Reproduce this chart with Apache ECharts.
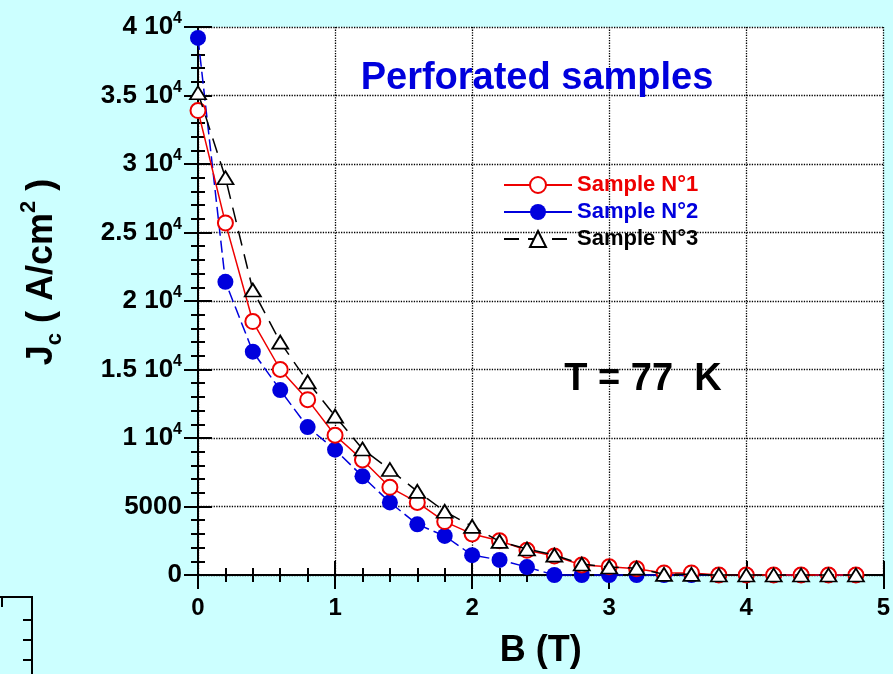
<!DOCTYPE html>
<html>
<head>
<meta charset="utf-8">
<script src="https://cdn.jsdelivr.net/npm/echarts@6/dist/echarts.min.js"></script>
<style>
html,body{margin:0;padding:0;background:#ccffff;}
#chart{width:893px;height:674px;}
</style>
</head>
<body>
<div id="chart"></div>
<script>
// ---- data ----
var fieldB = [0, 0.2, 0.4, 0.6, 0.8, 1.0, 1.2, 1.4, 1.6, 1.8, 2.0, 2.2, 2.4, 2.6, 2.8, 3.0, 3.2, 3.4, 3.6, 3.8, 4.0, 4.2, 4.4, 4.6, 4.8];
var sample1 = [33900, 25700, 18500, 15000, 12800, 10200, 8400, 6400, 5300, 3900, 3000, 2500, 1800, 1380, 730, 600, 450, 150, 150, 0, 0, 0, 0, 0, 0];
var sample2 = [39200, 21400, 16300, 13500, 10800, 9150, 7200, 5300, 3700, 2850, 1450, 1100, 580, 0, 0, 0, 0, 0, 0, 0, 0, 0, 0, 0, 0];
var sample3 = [35200, 29000, 20800, 17000, 14100, 11600, 9200, 7700, 6100, 4650, 3550, 2450, 1900, 1450, 800, 580, 500, 50, 50, 0, 0, 0, 0, 0, 0];
var seriesNames = ['Sample N°1', 'Sample N°2', 'Sample N°3'];
var yTickValues = [0, 5000, 10000, 15000, 20000, 25000, 30000, 35000, 40000];
var yTickBase = ['0', '5000', '1 10', '1.5 10', '2 10', '2.5 10', '3 10', '3.5 10', '4 10'];
var yTickExp = ['', '', '4', '4', '4', '4', '4', '4', '4'];
var xTickLabels = ['0', '1', '2', '3', '4', '5'];

function pairs(ys) { return fieldB.map(function (x, i) { return [x, ys[i]]; }); }

var FONT = '"Liberation Sans", Arial, sans-serif';
var RED = '#ee0000', BLUE = '#0000dd', BLACK = '#000000';

var chart = echarts.init(document.getElementById('chart'));

var axisCommon = {
  axisLine: { show: true, lineStyle: { color: '#000', width: 2 } },
  axisTick: { show: true, inside: true, length: 14, lineStyle: { color: '#000', width: 2 } },
  minorTick: { show: true, splitNumber: 5, length: 7, lineStyle: { color: '#000', width: 2 } }
};

var option = {
  backgroundColor: '#ccffff',
  animation: false,
  grid: { left: 198, right: 7, top: 27, bottom: 97, show: true, backgroundColor: '#ffffff', borderWidth: 0 },
  legend: {
    orient: 'vertical',
    left: 498, top: 169,
    itemWidth: 68, itemHeight: 20, itemGap: 5,
    textStyle: { fontFamily: FONT, fontWeight: 'bold', fontSize: 22, lineHeight: 20 },
    data: [
      { name: seriesNames[0], textStyle: { color: RED } },
      { name: seriesNames[1], textStyle: { color: BLUE }, lineStyle: { type: 'solid' } },
      { name: seriesNames[2], textStyle: { color: BLACK } }
    ]
  },
  xAxis: [
    Object.assign({}, axisCommon, {
      type: 'value', min: 0, max: 5, interval: 1, position: 'bottom',
      axisLabel: {
        margin: 21, color: '#000', fontFamily: FONT, fontWeight: 'bold', fontSize: 24,
        formatter: function (v) { var i = Math.round(v); return xTickLabels[i] !== undefined ? xTickLabels[i] : ''; }
      },
      splitLine: { show: true, lineStyle: { color: '#000', type: 'dotted', width: 1.3 } },
      name: 'B (T)', nameLocation: 'middle', nameGap: 58,
      nameTextStyle: { color: '#000', fontFamily: FONT, fontWeight: 'bold', fontSize: 36 }
    }),
    Object.assign({}, axisCommon, {
      type: 'value', min: 0, max: 5, interval: 1, position: 'top',
      axisLabel: { show: false }, splitLine: { show: false }
    })
  ],
  yAxis: [
    Object.assign({}, axisCommon, {
      type: 'value', min: 0, max: 40000, interval: 5000, position: 'left',
      axisLabel: {
        margin: 16, color: '#000',
        formatter: function (v) {
          var i = yTickValues.indexOf(Math.round(v));
          if (i < 0) return '';
          return yTickExp[i] ? '{b|' + yTickBase[i] + '}{s|' + yTickExp[i] + '}' : '{b|' + yTickBase[i] + '}';
        },
        rich: {
          b: { fontFamily: FONT, fontWeight: 'bold', fontSize: 26, lineHeight: 32, color: '#000' },
          s: { fontFamily: FONT, fontWeight: 'bold', fontSize: 16, lineHeight: 16, verticalAlign: 'top', color: '#000' }
        }
      },
      splitLine: { show: true, lineStyle: { color: '#000', type: 'dotted', width: 1.3 } }
    }),
    Object.assign({}, axisCommon, {
      type: 'value', min: 0, max: 40000, interval: 5000, position: 'right',
      axisLabel: { show: false }, splitLine: { show: false }
    })
  ],
  series: [
    {
      name: seriesNames[1], type: 'line', data: pairs(sample2), clip: false,
      symbol: 'circle', symbolSize: 16,
      itemStyle: { color: BLUE },
      lineStyle: { color: BLUE, width: 1.5, type: [12, 5] },
      z: 2
    },
    {
      name: seriesNames[0], type: 'line', data: pairs(sample1), clip: false,
      symbol: 'emptyCircle', symbolSize: 15,
      itemStyle: { color: RED, borderColor: RED, borderWidth: 1.8 },
      lineStyle: { color: RED, width: 1.5, type: 'solid' },
      z: 3
    },
    {
      name: seriesNames[2], type: 'line', data: pairs(sample3), clip: false,
      symbol: 'triangle', symbolSize: [16, 13],
      itemStyle: { color: '#ffffff', borderColor: BLACK, borderWidth: 1.8 },
      lineStyle: { color: BLACK, width: 1.5, type: [15, 9] },
      z: 4
    }
  ],
  graphic: [
    { type: 'text', x: 537, y: 79, z: 10,
      style: { text: 'Perforated samples', align: 'center', verticalAlign: 'middle', font: 'bold 38px ' + FONT, fill: BLUE } },
    { type: 'text', x: 643, y: 380, z: 10,
      style: { text: 'T = 77  K', align: 'center', verticalAlign: 'middle', font: 'bold 38px ' + FONT, fill: BLACK } },
    { type: 'text', x: 42, y: 272, rotation: Math.PI / 2, z: 10,
      style: {
        text: '{m|J}{sub|c}{m| ( A/cm}{sup|2}{m| )}', align: 'center', verticalAlign: 'middle',
        rich: {
          m: { fontFamily: FONT, fontWeight: 'bold', fontSize: 36, lineHeight: 48, fill: '#000' },
          sub: { fontFamily: FONT, fontWeight: 'bold', fontSize: 22, lineHeight: 22, verticalAlign: 'bottom', fill: '#000' },
          sup: { fontFamily: FONT, fontWeight: 'bold', fontSize: 22, lineHeight: 22, verticalAlign: 'top', fill: '#000' }
        }
      } },
    { type: 'polyline', z: 10, shape: { points: [[0, 597], [32, 597], [32, 674]] }, style: { stroke: '#000', lineWidth: 2, fill: null } },
    { type: 'line', z: 10, shape: { x1: 2, y1: 597, x2: 2, y2: 607 }, style: { stroke: '#000', lineWidth: 2 } },
    { type: 'line', z: 10, shape: { x1: 23, y1: 620, x2: 32, y2: 620 }, style: { stroke: '#000', lineWidth: 2 } },
    { type: 'line', z: 10, shape: { x1: 23, y1: 640, x2: 32, y2: 640 }, style: { stroke: '#000', lineWidth: 2 } },
    { type: 'line', z: 10, shape: { x1: 23, y1: 660, x2: 32, y2: 660 }, style: { stroke: '#000', lineWidth: 2 } }
  ]
};
chart.setOption(option);
</script>
</body>
</html>
